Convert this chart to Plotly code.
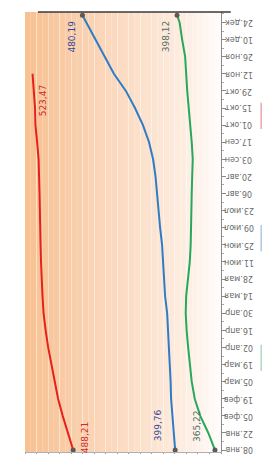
import plotly.graph_objects as go
import pandas as pd

# ---------------- data ----------------
tick_dates = list(pd.date_range("2019-01-08", periods=26, freq="14D").strftime("%Y-%m-%d"))
tick_labels = ["08.янв", "22.янв", "05.фев", "19.фев", "05.мар", "19.мар", "02.апр",
               "16.апр", "30.апр", "14.мая", "28.мая", "11.июн", "25.июн", "09.июл",
               "23.июл", "06.авг", "20.авг", "03.сен", "17.сен", "01.окт", "15.окт",
               "29.окт", "12.ноя", "26.ноя", "10.дек", "24.дек"]

red_dates = tick_dates[:23]
red_values = [488.21, 493.0, 497.3, 501.3, 504.3, 506.9, 509.9, 512.1, 513.9, 514.8,
              515.6, 516.1, 516.5, 517.0, 517.4, 517.4, 517.8, 518.2, 519.5, 520.9,
              521.3, 522.2, 523.47]

bg_dates = tick_dates + ["2019-12-30"]
blue_values = [399.76, 401.1, 402.4, 403.3, 403.7, 404.6, 405.4, 405.9, 406.7, 408.5,
               409.4, 410.2, 411.1, 412.8, 414.2, 415.5, 416.8, 418.9, 422.4, 427.7,
               434.6, 442.5, 452.9, 460.8, 468.6, 476.4, 480.19]
green_values = [365.22, 371.0, 378.0, 382.8, 385.4, 387.1, 388.5, 389.8, 390.6, 390.2,
                388.5, 387.1, 386.3, 385.8, 385.8, 385.4, 385.0, 384.5, 385.4, 386.7,
                388.5, 389.3, 390.2, 391.1, 393.7, 395.9, 398.12]

series_names = ["Серия 1", "Серия 2", "Серия 3"]
series_colors = ["#e8201a", "#2f7cc6", "#27a85c"]
label_colors = ["#cc2a2a", "#34479c", "#4f6f66"]

x_min, x_max = 360, 530

fig = go.Figure()

# gradient background bands (value axis is horizontal, reversed)
def band_color(v):
    t = (x_max - v) / (x_max - x_min)
    stops = [(0.0, (247, 192, 145)), (0.45, (251, 217, 190)), (0.8, (253, 236, 224)), (1.0, (255, 252, 250))]
    for (t0, c0), (t1, c1) in zip(stops[:-1], stops[1:]):
        if t0 <= t <= t1:
            f = (t - t0) / (t1 - t0)
            c = [round(a + (b - a) * f) for a, b in zip(c0, c1)]
            return "rgb(%d,%d,%d)" % tuple(c)
    return "rgb(255,255,255)"

shapes = []
v = x_min
while v < x_max:
    shapes.append(dict(type="rect", xref="x", yref="paper", x0=v, x1=v + 5, y0=0, y1=1,
                       fillcolor=band_color(v + 2.5), line=dict(width=0), layer="below"))
    v += 5

# top dark border line
shapes.append(dict(type="line", xref="paper", yref="paper", x0=0.066, x1=1.05, y0=1.0, y1=1.0,
                   line=dict(color="#3a3a3a", width=1.5)))

# rotated legend symbols
for col, yy in zip(["#eba8ae", "#b0c8e2", "#b0d8c0"], [0.764, 0.486, 0.214]):
    shapes.append(dict(type="line", xref="paper", yref="paper", x0=1.205, x1=1.205,
                       y0=yy - 0.03, y1=yy + 0.03, line=dict(color=col, width=1.5)))

all_sets = [(red_dates, red_values), (bg_dates, blue_values), (bg_dates, green_values)]
for (d, vals), name, col in zip(all_sets, series_names, series_colors):
    fig.add_trace(go.Scatter(x=vals, y=d, mode="lines", name=name,
                             line=dict(color=col, width=2), showlegend=False))

# endpoint markers
mk_x = [red_values[0], blue_values[0], green_values[0], blue_values[-1], green_values[-1]]
mk_y = [red_dates[0], bg_dates[0], bg_dates[0], bg_dates[-1], bg_dates[-1]]
fig.add_trace(go.Scatter(x=mk_x, y=mk_y, mode="markers", showlegend=False,
                         marker=dict(color="#5a5a5a", size=5)))

ann = []
def fmt(v):
    return ("%.2f" % v).replace(".", ",")
label_specs = [
    (red_values[0], red_dates[0], 12, 13, label_colors[0]),
    (red_values[-1], red_dates[-1], 10, -27, label_colors[0]),
    (blue_values[0], bg_dates[0], -17, 25, label_colors[1]),
    (blue_values[-1], bg_dates[-1], -10, -21, label_colors[1]),
    (green_values[0], bg_dates[0], -18, 24, label_colors[2]),
    (green_values[-1], bg_dates[-1], -11, -21, label_colors[2]),
]
for vx, dy, ax, ay, c in label_specs:
    ann.append(dict(x=vx, y=dy, xref="x", yref="y", text=fmt(vx), showarrow=False,
                    xshift=ax, yshift=ay, textangle=-90,
                    font=dict(size=9, color=c, family="DejaVu Sans")))

# upside-down date tick labels on the right
for d, t in zip(tick_dates, tick_labels):
    ann.append(dict(x=1, y=d, xref="paper", yref="y", text=t, showarrow=False,
                    xanchor="center", yanchor="middle", xshift=18, textangle=180,
                    font=dict(size=8, color="#6a6a6a", family="DejaVu Sans")))

fig.update_layout(
    width=276, height=454,
    margin=dict(l=17, r=63, t=4, b=10),
    paper_bgcolor="white", plot_bgcolor="white",
    shapes=shapes, annotations=ann, showlegend=False,
    xaxis=dict(range=[x_max, x_min], showgrid=True, gridcolor="rgba(255,255,255,0.35)",
               dtick=10, tick0=360, showticklabels=False, ticks="outside", ticklen=7,
               tickcolor="#9a9a9a", showline=True, linecolor="#b0b0b0", zeroline=False),
    yaxis=dict(type="date", range=["2019-01-06 10:00", "2020-01-01 14:00"], side="right",
               tickvals=tick_dates, showticklabels=False,
               showgrid=False, ticks="outside", ticklen=4, tickcolor="#888888",
               showline=True, linecolor="#8a8a8a", zeroline=False,
               minor=dict(dtick=7 * 86400000, tick0="2019-01-08", ticks="outside", ticklen=2,
                          tickcolor="#aaaaaa")),
)

fig.write_html("out.html")
